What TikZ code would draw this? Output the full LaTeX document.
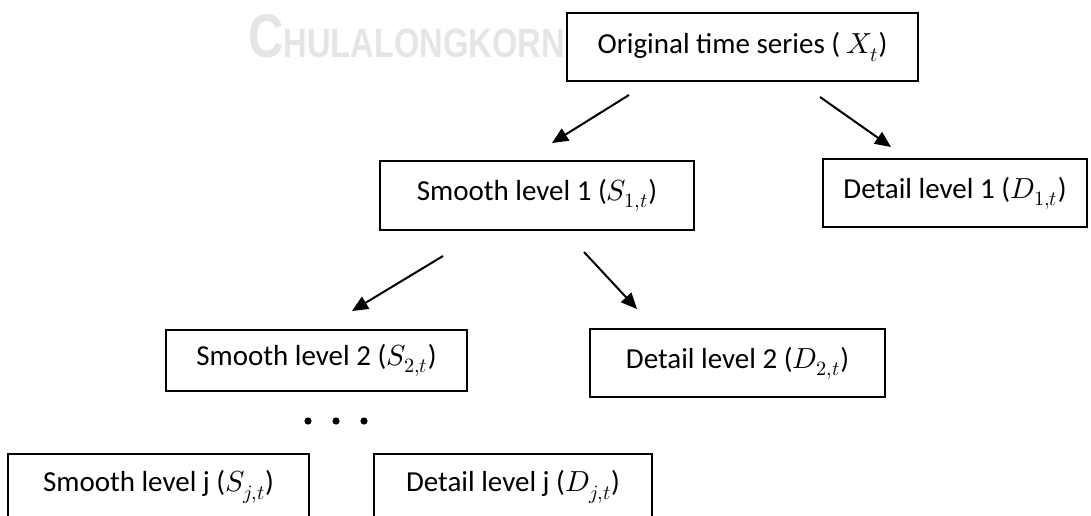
\documentclass[tikz,border=0pt]{standalone}
\usepackage{fontspec}
\usepackage{unicode-math}
\setmainfont{Carlito}
\setmathfont{Latin Modern Math}
\newfontfamily\wmfont{Liberation Sans}
\usetikzlibrary{arrows.meta}
\begin{document}
\begin{tikzpicture}[x=1pt,y=-1pt,
  box/.style={draw,line width=2.4pt,inner sep=0pt,minimum height=68pt,
    font=\fontsize{29}{34}\selectfont},
  arr/.style={line width=2pt,-{Triangle[length=16pt,width=14pt]}}]
\useasboundingbox (0,0) rectangle (1091,516);
\clip (0,0) rectangle (1091,516);
% watermark
\node[text=black!10,anchor=south west,inner sep=0pt] (wm) at (248,58)
  {\resizebox{317pt}{43pt}{\wmfont\bfseries{\fontsize{60}{60}\selectfont C}{\fontsize{40}{40}\selectfont HULALONGKORN}}};
% boxes
\node[box,minimum width=351pt] (top) at (742.5,47) {Original time series ( $X_t$)};
\node[box,minimum width=314pt,minimum height=69pt] (s1) at (537,195.5) {Smooth level 1 ($S_{1,t}$)};
\node[box,minimum width=264pt] (d1) at (955,193) {Detail level 1 ($D_{1,t}$)};
\node[box,minimum width=301pt,minimum height=61pt] (s2) at (316.5,360.5) {Smooth level 2 ($S_{2,t}$)};
\node[box,minimum width=295pt] (d2) at (737.5,363) {Detail level 2 ($D_{2,t}$)};
\node[box,minimum width=301pt,text height=20pt,text depth=6pt,anchor=north] (sj) at (158.5,453) {};
\node[font=\fontsize{29}{34}\selectfont] (sjt) at (158.5,487) {Smooth level j ($S_{j,t}$)};
\node[box,minimum width=278pt,anchor=north] (dj) at (513,453) {};
\node[font=\fontsize{29}{34}\selectfont] (djt) at (513,487) {Detail level j ($D_{j,t}$)};
% arrow end points
\coordinate (a1s) at (629,95);  \coordinate (a1e) at (552,143);
\coordinate (a2s) at (820,97);  \coordinate (a2e) at (891,147);
\coordinate (a3s) at (443,256); \coordinate (a3e) at (352,311);
\coordinate (a4s) at (584,252); \coordinate (a4e) at (637,309);
\draw[arr] (a1s) -- (a1e);
\draw[arr] (a2s) -- (a2e);
\draw[arr] (a3s) -- (a3e);
\draw[arr] (a4s) -- (a4e);
% dots
\fill (308,421) circle (3.6pt);
\fill (336,421) circle (3.6pt);
\fill (364,421) circle (3.6pt);
\end{tikzpicture}
\end{document}
